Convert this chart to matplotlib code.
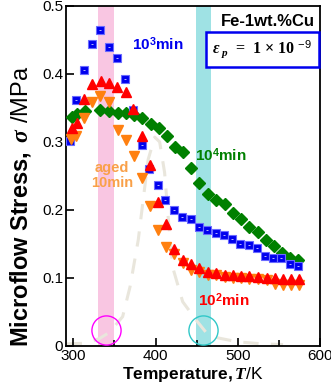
import matplotlib
matplotlib.use("Agg")
import matplotlib.pyplot as plt

plt.rcParams['font.family'] = ['Liberation Sans', 'DejaVu Sans']
plt.rcParams['mathtext.fontset'] = 'custom'
plt.rcParams['mathtext.rm'] = 'Liberation Sans'
plt.rcParams['mathtext.bf'] = 'Liberation Sans:bold'
plt.rcParams['mathtext.it'] = 'Liberation Serif:italic:bold'

# aged 10^3 min (blue squares)
t_1e3 = [296, 303, 313, 323, 333, 343, 353, 363, 373, 383, 392, 403, 412, 422, 432,
         443, 453, 463, 473, 483, 493, 503, 513, 523, 533, 543, 553, 563, 573]
s_1e3 = [0.302, 0.361, 0.406, 0.444, 0.464, 0.440, 0.424, 0.393, 0.347, 0.295, 0.260,
         0.236, 0.214, 0.200, 0.190, 0.187, 0.175, 0.170, 0.166, 0.163, 0.157, 0.150,
         0.148, 0.144, 0.132, 0.130, 0.129, 0.120, 0.117]

# aged 10^2 min (red triangles)
t_1e2 = [299, 304, 313, 323, 334, 343, 353, 364, 373, 383, 393, 403, 413, 423, 433,
         443, 453, 464, 474, 484, 494, 504, 514, 525, 535, 545, 555, 565, 574]
s_1e2 = [0.320, 0.328, 0.363, 0.385, 0.389, 0.386, 0.380, 0.373, 0.349, 0.309, 0.266,
         0.211, 0.179, 0.143, 0.127, 0.121, 0.115, 0.108, 0.107, 0.105, 0.104, 0.103,
         0.103, 0.102, 0.100, 0.0995, 0.098, 0.098, 0.098]

# aged 10 min (orange down triangles)
t_10 = [297, 303, 313, 323, 333, 344, 354, 364, 374, 383, 393, 403, 413, 423, 433,
        443, 453, 464, 474, 484, 494, 504, 514, 525, 535, 545, 555, 565, 574]
s_10 = [0.304, 0.309, 0.335, 0.358, 0.367, 0.358, 0.318, 0.303, 0.279, 0.247, 0.206,
        0.171, 0.146, 0.135, 0.122, 0.112, 0.108, 0.105, 0.104, 0.102, 0.100, 0.0995,
        0.0985, 0.0985, 0.097, 0.091, 0.090, 0.090, 0.090]

# aged 10^4 min (green diamonds)
t_1e4 = [298, 305, 314, 333, 344, 354, 364, 374, 384, 394, 404, 414, 424, 433, 443,
         453, 464, 474, 484, 494, 504, 514, 524, 534, 544, 554, 564, 573]
s_1e4 = [0.336, 0.341, 0.345, 0.347, 0.345, 0.343, 0.343, 0.340, 0.335, 0.327, 0.320,
         0.309, 0.293, 0.285, 0.261, 0.240, 0.223, 0.215, 0.208, 0.196, 0.187, 0.175,
         0.168, 0.156, 0.147, 0.137, 0.130, 0.126]

# guide curve (dashed)
t_guide = [292, 316, 332, 344, 360, 369, 379, 385, 391, 399, 405, 411, 416, 421, 433,
           450, 462, 475, 500, 530, 555]
s_guide = [0.003, 0.004, 0.011, 0.020, 0.043, 0.087, 0.156, 0.215, 0.274, 0.307, 0.300,
           0.255, 0.180, 0.115, 0.065, 0.037, 0.019, 0.012, 0.006, 0.003, 0.002]

pink_band = (330, 349)
cyan_band = (449, 467)
circle_pts = [(340, 0.024), (458, 0.024)]

fig = plt.figure(figsize=(3.31, 3.90), dpi=100)
ax = fig.add_axes([0.199, 0.113, 0.768, 0.872])

ax.axvspan(*pink_band, color='#f9c6e2', lw=0, zorder=0)
ax.axvspan(*cyan_band, color='#9fe2e4', lw=0, zorder=0)

ax.plot(t_guide, s_guide, color='#e9e6dc', lw=2.2, ls=(0, (5, 4)), zorder=1)

ax.plot(t_1e4, s_1e4, 'D', color='#008000', ms=6, mec='#008000', zorder=3)
ax.plot(t_1e3, s_1e3, 's', color='#0000ee', ms=5.5, mec='#6a6aff', mew=0.8, zorder=4)
ax.plot(t_1e3, s_1e3, '_', color='white', ms=1.8, mew=0.5, zorder=4)
ax.plot(t_10, s_10, 'v', color='#ff8010', ms=6.5, mec='#ff8010', zorder=5)
ax.plot(t_1e2, s_1e2, '^', color='#ff0000', ms=6.5, mec='#ff0000', zorder=6)

ax.plot(*circle_pts[0], 'o', mfc='none', mec='#ff00ff', ms=21, mew=1.0, zorder=7)
ax.plot(*circle_pts[1], 'o', mfc='none', mec='#30c8c8', ms=21, mew=1.0, zorder=7)

ax.text(403, 0.444, r'10$^{\mathbf{3}}$min', color='#0000ee', fontsize=11,
        fontweight='bold', ha='center', va='center')
ax.text(479, 0.280, r'10$^{\mathbf{4}}$min', color='#008000', fontsize=11,
        fontweight='bold', ha='center', va='center')
ax.text(483, 0.068, r'10$^{\mathbf{2}}$min', color='#ff0000', fontsize=11,
        fontweight='bold', ha='center', va='center')
ax.text(347, 0.251, 'aged\n10min', color='#f9a048', fontsize=10.5,
        fontweight='bold', ha='center', va='center', linespacing=1.1)
ax.text(536, 0.477, 'Fe-1wt.%Cu', color='black', fontsize=12,
        fontweight='bold', ha='center', va='center')
ax.text(530, 0.436, r'$\varepsilon_{\ p}$  =  1 × 10 $^{-9}$', color='black',
        fontsize=11.5, fontweight='bold', family='Liberation Serif',
        ha='center', va='center',
        bbox=dict(boxstyle='square,pad=0.4', fc='white', ec='#0000ee', lw=1.8))

ax.set_xlim(291, 600)
ax.set_ylim(0, 0.5)
ax.set_xticks([300, 400, 500, 600])
ax.set_xticks([350, 450, 550], minor=True)
ax.set_yticks([0, 0.1, 0.2, 0.3, 0.4, 0.5])
ax.set_yticklabels(['0', '0.1', '0.2', '0.3', '0.4', '0.5'])
ax.tick_params(direction='in', labelsize=11, length=6, width=1.2, pad=2)
ax.tick_params(which='minor', direction='in', length=4, width=1.2)
for sp in ax.spines.values():
    sp.set_linewidth(1.3)

ax.set_xlabel(r'$\mathbf{Temperature,}\mathit{T}$/K', fontsize=12.5, labelpad=2)
ax.set_ylabel(r'$\mathbf{Microflow\ Stress,}\ \mathit{\sigma}$ /MPa', fontsize=17)
ax.yaxis.set_label_coords(-0.13, 0.41)

fig.savefig('out.png', dpi=100)
